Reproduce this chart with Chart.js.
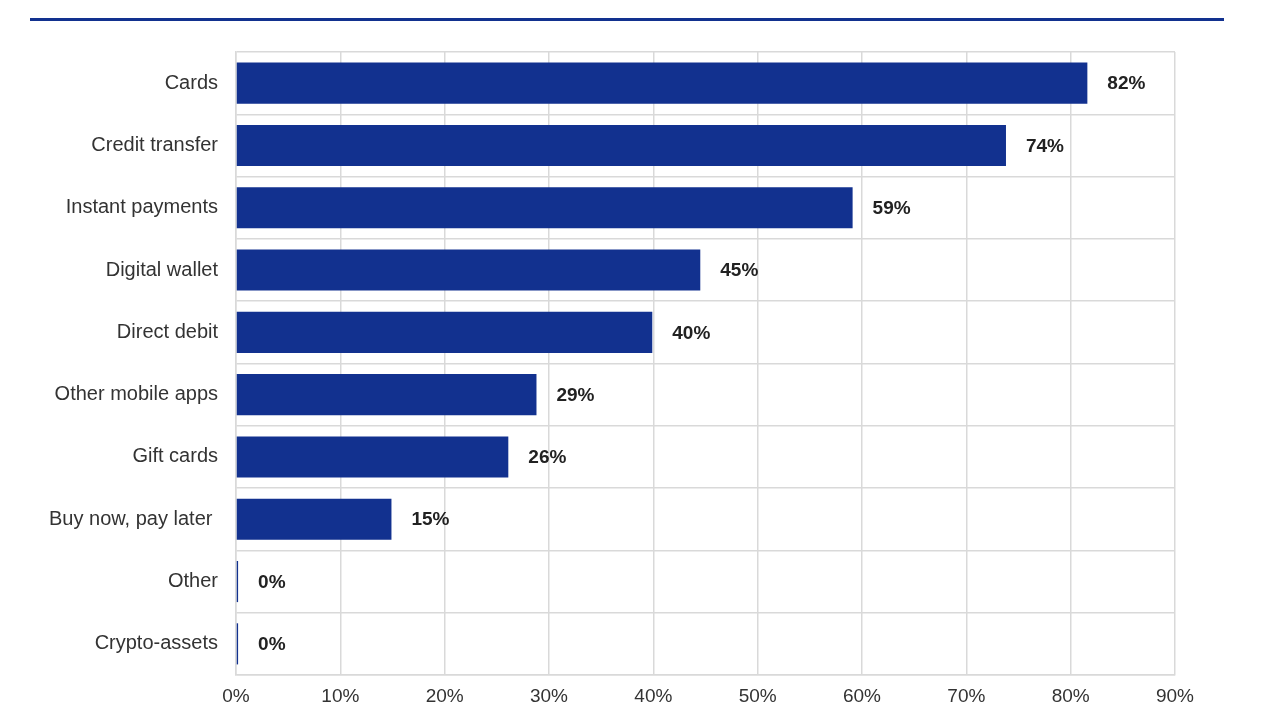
<!DOCTYPE html>
<html>
<head>
<meta charset="utf-8">
<script src="https://cdn.jsdelivr.net/npm/chart.js@4/dist/chart.umd.min.js"></script>
<style>
  html, body { margin: 0; padding: 0; background: #ffffff; }
  #wrap { position: relative; width: 1280px; height: 724px; }
  #rule { position: absolute; left: 30px; top: 18px; width: 1194px; height: 3px; background: #12318f; }
  canvas { position: absolute; left: 0; top: 0; }
</style>
</head>
<body>
<div id="wrap">
  <div id="rule"></div>
  <canvas id="c" width="1280" height="724"></canvas>
</div>
<script>
const categories = ["Cards", "Credit transfer", "Instant payments", "Digital wallet", "Direct debit",
  "Other mobile apps", "Gift cards", "Buy now, pay later ", "Other", "Crypto-assets"];
const values = [81.6, 73.8, 59.1, 44.5, 39.9, 28.8, 26.1, 14.9, 0.2, 0.2];
const valueLabels = ["82%", "74%", "59%", "45%", "40%", "29%", "26%", "15%", "0%", "0%"];
const xTicks = [0, 10, 20, 30, 40, 50, 60, 70, 80, 90];

const FONT = "'Liberation Sans', Arial, sans-serif";

const valueLabelPlugin = {
  id: 'valueLabels',
  afterDatasetsDraw(chart) {
    const ctx = chart.ctx;
    const meta = chart.getDatasetMeta(0);
    ctx.save();
    ctx.font = "bold 19px " + FONT;
    ctx.fillStyle = "#222222";
    ctx.textAlign = "left";
    ctx.textBaseline = "middle";
    meta.data.forEach((bar, i) => {
      ctx.fillText(valueLabels[i], bar.x + 20, bar.y + 1);
    });
    ctx.restore();
  }
};

new Chart(document.getElementById('c'), {
  type: 'bar',
  data: {
    labels: categories,
    datasets: [{
      data: values,
      backgroundColor: '#12318f',
      borderWidth: 0,
      barPercentage: 0.66,
      categoryPercentage: 1.0
    }]
  },
  options: {
    indexAxis: 'y',
    responsive: false,
    animation: false,
    devicePixelRatio: 1,
    layout: { padding: { top: 52, right: 105, left: 0, bottom: 0 } },
    plugins: { legend: { display: false }, tooltip: { enabled: false } },
    scales: {
      x: {
        min: 0, max: 90,
        afterBuildTicks(scale) { scale.ticks = xTicks.map(v => ({ value: v })); },
        afterFit(scale) { scale.height = 49; },
        grid: { color: '#d9d9d9', lineWidth: 1.5, drawTicks: false },
        border: { color: '#d9d9d9', width: 1.5 },
        ticks: {
          padding: 10,
          color: '#333333',
          font: { size: 19, family: FONT },
          callback: (v) => v + '%'
        }
      },
      y: {
        afterFit(scale) { scale.width = 236; },
        grid: { color: '#d9d9d9', lineWidth: 1.5, offset: true, drawTicks: false },
        border: { color: '#d9d9d9', width: 1.5 },
        ticks: {
          padding: 18,
          color: '#333333',
          font: { size: 20, family: FONT }
        }
      }
    }
  },
  plugins: [valueLabelPlugin]
});
</script>
</body>
</html>
